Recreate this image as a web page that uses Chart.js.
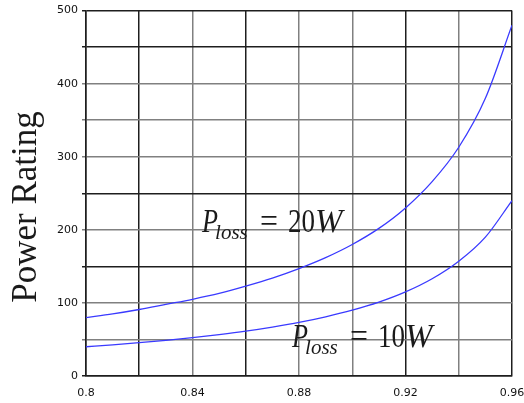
<!DOCTYPE html>
<html lang="en">
<head>
<meta charset="UTF-8">
<title>Power Rating</title>
<script src="https://cdn.jsdelivr.net/npm/chart.js"></script>
<style>
    html, body { margin: 0; padding: 0; background: #fff; }
    #wrap { width: 524px; height: 403px; }
</style>
</head>
<body>
<div id="wrap"><canvas id="chart"></canvas></div>
<script>
// efficiency values (x) and power rating
const efficiency = [0.80, 0.81, 0.82, 0.83, 0.84, 0.85, 0.86, 0.87, 0.88, 0.89, 0.90, 0.91, 0.92, 0.93, 0.94, 0.95, 0.96];
const power20W = [80, 85, 91, 98, 105, 113, 123, 134, 147, 162, 180, 202, 230, 266, 313, 380, 480];
const power10W = [40, 42.6, 45.6, 48.8, 52.5, 56.7, 61.4, 67, 73.3, 81, 90, 101, 115, 133, 157, 190, 240];

const xTickLabels = ['0.8', '', '0.84', '', '0.88', '', '0.92', '', '0.96'];
const yTickLabels = ['0', '', '100', '', '200', '', '300', '', '400', '', '500'];

// curve labels: [sub-label, number, anchor efficiency, anchor power]
const curveLabels = [
    ['loss', '20', 0.8436, 197],
    ['loss', '10', 0.8774, 40]
];

const dark = '#1e1e1e';
const gray = '#808080';
const xDark = [0, 1, 3, 6, 8];
const yDark = [0, 3, 5, 9, 10];

function toPoints(ys) {
    return efficiency.map((e, i) => ({ x: e, y: ys[i] }));
}

const textPlugin = {
    id: 'texts',
    afterDraw(chart) {
        const ctx = chart.ctx;
        const xs = chart.scales.x, ys = chart.scales.y;
        ctx.save();
        ctx.fillStyle = '#1a1a1a';
        // axis title
        ctx.translate(27, 207);
        ctx.rotate(-Math.PI / 2);
        ctx.font = '35px "Liberation Serif"';
        ctx.textAlign = 'center';
        ctx.textBaseline = 'middle';
        ctx.fillText('Power Rating', 0, 0);
        ctx.restore();

        ctx.save();
        ctx.fillStyle = '#1a1a1a';
        ctx.textAlign = 'left';
        ctx.textBaseline = 'alphabetic';
        curveLabels.forEach(([sub, num, ex, ey]) => {
            const px = xs.getPixelForValue(ex);
            const py = ys.getPixelForValue(ey);
            ctx.font = 'italic 33px "Liberation Serif"';
            ctx.fillText('P', px, py, 16);
            ctx.font = 'italic 21px "Liberation Serif"';
            ctx.fillText(sub, px + 13, py + 7, 33);
            ctx.font = '33px "Liberation Serif"';
            ctx.fillText('=', px + 58, py, 18);
            ctx.fillText(num, px + 86, py, 27);
            ctx.font = 'italic 33px "Liberation Serif"';
            ctx.fillText('W', px + 113, py, 32);
        });
        ctx.restore();
    }
};

new Chart(document.getElementById('chart'), {
    type: 'line',
    data: {
        datasets: [
            {
                label: 'Ploss = 20W',
                data: toPoints(power20W),
                borderColor: '#3a3aff',
                borderWidth: 1.3,
                pointRadius: 0,
                cubicInterpolationMode: 'monotone'
            },
            {
                label: 'Ploss = 10W',
                data: toPoints(power10W),
                borderColor: '#3a3aff',
                borderWidth: 1.3,
                pointRadius: 0,
                cubicInterpolationMode: 'monotone'
            }
        ]
    },
    options: {
        responsive: true,
        maintainAspectRatio: false,
        animation: false,
        layout: { padding: { top: 10, right: 12, left: 0, bottom: 0 } },
        plugins: {
            legend: { display: false },
            tooltip: { enabled: false }
        },
        scales: {
            x: {
                type: 'linear',
                min: 0.8,
                max: 0.96,
                afterFit(scale) {
                    scale.height = 27;
                    scale.paddingLeft = 0;
                    scale.paddingRight = 0;
                },
                ticks: {
                    stepSize: 0.02,
                    maxRotation: 0,
                    autoSkip: false,
                    padding: 11,
                    color: '#111',
                    font: { family: 'DejaVu Sans', size: 11 },
                    callback: (v, i) => xTickLabels[i]
                },
                grid: {
                    color: ctx => xDark.includes(ctx.index) ? dark : gray,
                    lineWidth: 1.5,
                    drawTicks: false
                },
                border: { color: dark, width: 1.5 }
            },
            y: {
                min: 0,
                max: 500,
                afterFit(scale) { scale.width = 86; },
                ticks: {
                    stepSize: 50,
                    autoSkip: false,
                    padding: 4,
                    color: '#111',
                    font: { family: 'DejaVu Sans', size: 11 },
                    callback: (v, i) => yTickLabels[i]
                },
                grid: {
                    color: ctx => yDark.includes(ctx.index) ? dark : gray,
                    lineWidth: 1.5,
                    tickLength: 4
                },
                border: { color: dark, width: 1.5 }
            }
        }
    },
    plugins: [textPlugin]
});
</script>
</body>
</html>
